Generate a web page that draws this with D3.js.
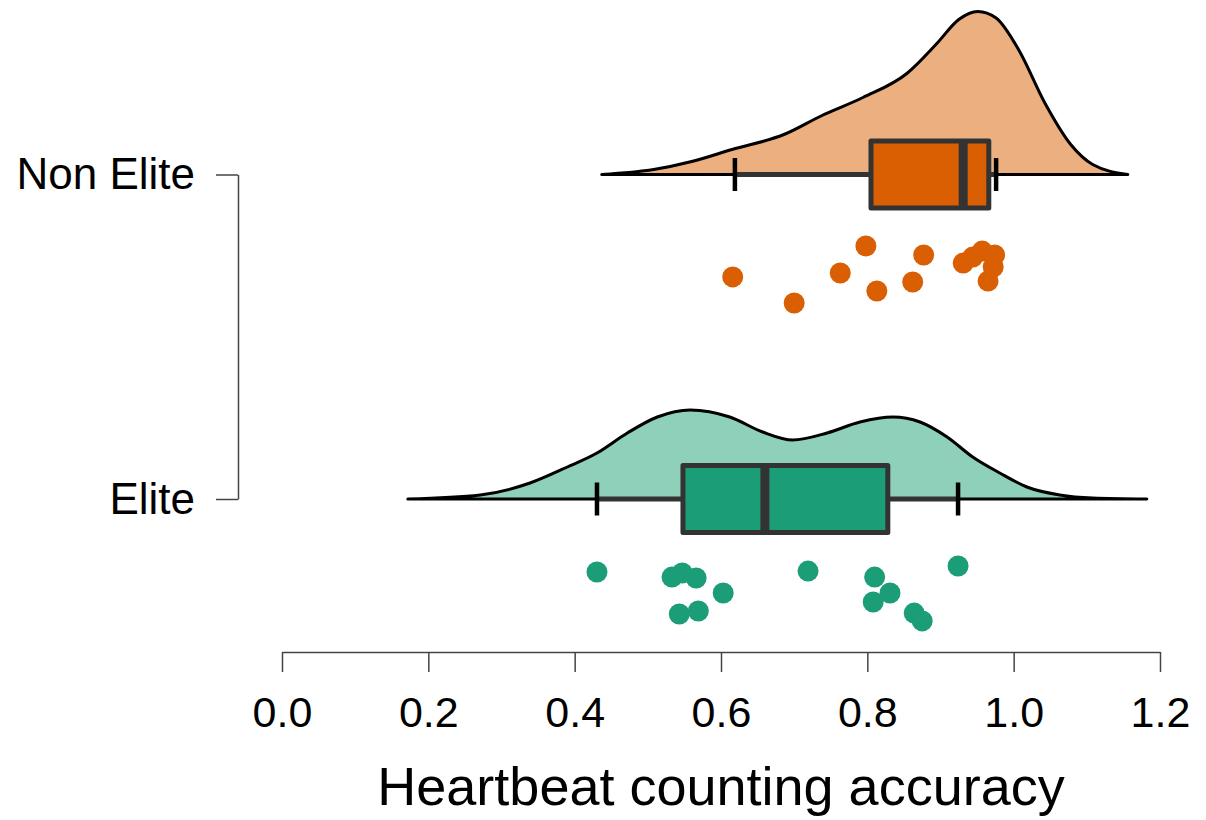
<!DOCTYPE html>
<html>
<head>
<meta charset="utf-8">
<script src="https://cdn.jsdelivr.net/npm/d3@7"></script>
<style>
  body { margin: 0; background: #fff; }
  svg { display: block; font-family: "Liberation Sans", Arial, sans-serif; }
</style>
</head>
<body>
<div class="raincloud"></div>
<script>
// groups, top to bottom
const groups = ["Non Elite", "Elite"];
const xTicks = [0, 0.2, 0.4, 0.6, 0.8, 1.0, 1.2];
const xTitle = "Heartbeat counting accuracy";

// raw scores and their vertical jitter (-1..1)
const nonEliteScores = [0.616, 0.700, 0.763, 0.798, 0.813, 0.862, 0.877, 0.931, 0.944, 0.957, 0.974, 0.972, 0.965];
const nonEliteJitter = [0.18, 1.05, 0.05, -0.85, 0.65, 0.35, -0.55, -0.28, -0.48, -0.68, -0.55, -0.15, 0.32];
const eliteScores = [0.4305, 0.533, 0.547, 0.566, 0.603, 0.543, 0.569, 0.719, 0.810, 0.831, 0.808, 0.864, 0.875, 0.924];
const eliteJitter = [-0.8, -0.63, -0.77, -0.6, -0.1, 0.6, 0.5, -0.83, -0.63, -0.1, 0.2, 0.57, 0.83, -1.0];

// box stats: whisker low, q1, median, q3, whisker high
const nonEliteBox = [0.619, 0.805, 0.931, 0.966, 0.976];
const eliteBox = [0.4305, 0.548, 0.660, 0.828, 0.924];

// density curves read from the half-violins
const nonEliteDensX = [0.437, 0.508, 0.560, 0.615, 0.686, 0.738, 0.794, 0.854, 0.895, 0.925, 0.951, 0.976, 1.007, 1.043, 1.078, 1.108, 1.156];
const nonEliteDensY = [0, 0.10, 0.26, 0.50, 0.80, 1.18, 1.54, 2.02, 2.62, 3.10, 3.26, 3.13, 2.49, 1.42, 0.60, 0.20, 0];
const eliteDensX = [0.172, 0.271, 0.339, 0.390, 0.4305, 0.472, 0.513, 0.558, 0.612, 0.657, 0.698, 0.745, 0.790, 0.835, 0.872, 0.909, 0.944, 0.981, 1.018, 1.063, 1.108, 1.182];
const eliteDensY = [0, 0.08, 0.32, 0.64, 0.92, 1.32, 1.64, 1.78, 1.64, 1.34, 1.18, 1.32, 1.54, 1.64, 1.54, 1.24, 0.84, 0.52, 0.24, 0.08, 0.02, 0];

const series = [
  {name: "Non Elite", scores: nonEliteScores, jitter: nonEliteJitter, box: nonEliteBox,
   dens: nonEliteDensX.map((v, i) => [v, nonEliteDensY[i]]), cloud: "#ecaf80", fill: "#d95f02"},
  {name: "Elite", scores: eliteScores, jitter: eliteJitter, box: eliteBox,
   dens: eliteDensX.map((v, i) => [v, eliteDensY[i]]), cloud: "#8fd0bb", fill: "#1b9e77"}
];

const width = 1206, height = 820;
const svg = d3.select('.raincloud').append('svg')
  .attr('width', width).attr('height', height);

const xScale = d3.scaleLinear().domain([0, 1.2]).range([282, 1160]);
const yScale = d3.scalePoint().domain(groups).range([174.5, 499]);
const densScale = d3.scaleLinear().domain([0, 1]).range([0, 50]);
const jitterScale = d3.scaleLinear().domain([-1, 1]).range([67, 127]);
const boxH = 67;

series.forEach(s => {
  const base = yScale(s.name);
  const g = svg.append('g');

  // cloud
  g.append('path')
    .datum(s.dens)
    .attr('d', d3.area()
      .x(d => xScale(d[0]))
      .y0(base)
      .y1(d => base - densScale(d[1]))
      .curve(d3.curveMonotoneX))
    .attr('fill', s.cloud)
    .attr('stroke', '#000')
    .attr('stroke-width', 3)
    .attr('stroke-linejoin', 'round');

  const [lo, q1, med, q3, hi] = s.box;
  // whiskers
  g.selectAll('line.whisker').data([[lo, q1], [q3, hi]])
    .join('line').attr('class', 'whisker')
    .attr('x1', d => xScale(d[0])).attr('x2', d => xScale(d[1]))
    .attr('y1', base).attr('y2', base)
    .attr('stroke', '#333').attr('stroke-width', 5);

  g.append('rect')
    .attr('x', xScale(q1)).attr('y', base - boxH / 2)
    .attr('width', xScale(q3) - xScale(q1)).attr('height', boxH)
    .attr('fill', s.fill).attr('stroke', '#333').attr('stroke-width', 5)
    .attr('stroke-linejoin', 'round');

  g.append('line')
    .attr('x1', xScale(med)).attr('x2', xScale(med))
    .attr('y1', base - boxH / 2).attr('y2', base + boxH / 2)
    .attr('stroke', '#333').attr('stroke-width', 9);

  g.selectAll('line.cap').data([lo, hi])
    .join('line').attr('class', 'cap')
    .attr('x1', d => xScale(d)).attr('x2', d => xScale(d))
    .attr('y1', base - 16.5).attr('y2', base + 16.5)
    .attr('stroke', '#000').attr('stroke-width', 4.5);

  // rain
  g.selectAll('circle').data(s.scores)
    .join('circle')
    .attr('cx', d => xScale(d))
    .attr('cy', (d, i) => base + jitterScale(s.jitter[i]))
    .attr('r', 10.5)
    .attr('fill', s.fill);
});

// x axis
const xAxis = svg.append('g')
  .attr('transform', 'translate(0,652)')
  .call(d3.axisBottom(xScale).tickValues(xTicks).tickFormat(d3.format('.1f'))
    .tickSize(20).tickSizeOuter(0).tickPadding(24));
xAxis.select('.domain').attr('stroke', '#444').attr('stroke-width', 1.5);
xAxis.selectAll('.tick line').attr('stroke', '#444').attr('stroke-width', 1.5);
xAxis.selectAll('text').attr('font-size', 43).attr('fill', '#000')
  .attr('font-family', '"Liberation Sans", Arial, sans-serif');

svg.append('text')
  .attr('x', xScale(0.6)).attr('y', 805)
  .attr('text-anchor', 'middle')
  .attr('font-size', 54)
  .text(xTitle);

// y axis (bracket)
const yAxis = svg.append('g')
  .attr('transform', 'translate(238,0)')
  .call(d3.axisLeft(yScale).tickSize(22).tickSizeOuter(0).tickPadding(21));
yAxis.select('.domain').attr('stroke', '#444').attr('stroke-width', 1.5);
yAxis.selectAll('.tick line').attr('stroke', '#444').attr('stroke-width', 1.5);
yAxis.selectAll('text').attr('font-size', 44).attr('fill', '#000')
  .attr('font-family', '"Liberation Sans", Arial, sans-serif');
</script>
</body>
</html>
